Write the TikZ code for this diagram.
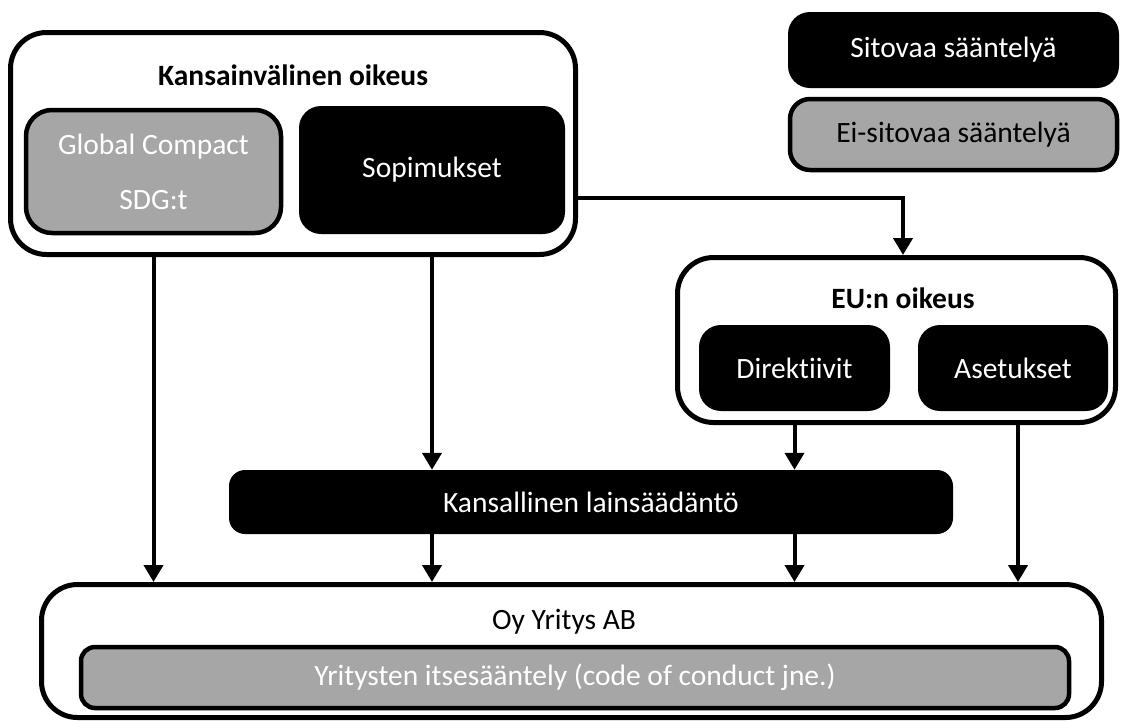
\documentclass[tikz,border=0pt]{standalone}
\usepackage{fontspec}
\setmainfont{Carlito}[Ligatures=NoCommon]
\usetikzlibrary{arrows.meta}
\definecolor{harmaa}{RGB}{166,166,166}
\tikzset{
  ulko/.style={draw=black, line width=5pt, rounded corners=36pt, fill=white},
  musta/.style={fill=black, text=white, rounded corners=22pt},
  harmaabox/.style={draw=black, line width=4.5pt, fill=harmaa, rounded corners=26pt},
  nuoli/.style={line width=4pt, -{Triangle[length=17pt,width=19pt]}},
  otsikko/.style={font=\fontsize{29.5}{35}\selectfont\bfseries},
}
\begin{document}
\begin{tikzpicture}[x=1pt,y=-1pt,font=\fontsize{29.5}{35}\selectfont]
		\useasboundingbox (0,0) rectangle (1121,721);
		% kansainvalinen oikeus
		\node[ulko,minimum width=565,minimum height=222] (kv) at (293,143.5) {};
		\node[otsikko] (kvt) at (293,75) {Kansainvälinen oikeus};
		\node[harmaabox,text=white,minimum width=255,minimum height=123,align=center] (gc) at (153.5,171.5) {Global Compact\\[20pt]SDG:t};
		\node[musta,minimum width=266,minimum height=128] (sop) at (432,170) {Sopimukset};
		% selitteet
		\node[musta,minimum width=331,minimum height=76] (sit) at (953.5,50) {Sitovaa sääntelyä};
		\node[harmaabox,minimum width=327,minimum height=71,rounded corners=20pt] (ei) at (953.5,134.5) {Ei-sitovaa sääntelyä};
		% EU
		\node[ulko,minimum width=438,minimum height=165] (eu) at (896.5,340) {};
		\node[otsikko] (eut) at (903,298) {EU:n oikeus};
		\node[musta,minimum width=191,minimum height=86] (dir) at (794.5,368) {Direktiivit};
		\node[musta,minimum width=190,minimum height=86] (ase) at (1013,368) {Asetukset};
		% kansallinen
		\node[musta,minimum width=724,minimum height=64,rounded corners=16pt] (kl) at (591,502) {Kansallinen lainsäädäntö};
		% yritys
		\node[ulko,minimum width=1060,minimum height=133] (oy) at (571.5,651) {};
		\node (oyt) at (564,622) {Oy Yritys AB};
		\node[harmaabox,text=white,minimum width=988,minimum height=61,rounded corners=14pt] (its) at (575,677.5) {Yritysten itsesääntely (code of conduct jne.)};
		% nuolet
		\coordinate (a4) at (1018,0);
		\coordinate (a5) at (903,198);
		\draw[nuoli] (kv.east |- a5) -| (eu.north -| a5);
		\draw[nuoli] (kv.south -| gc) -- (oy.north -| gc);
		\draw[nuoli] (kv.south -| sop) -- (kl.north -| sop);
		\draw[nuoli] (kl.south -| sop) -- (oy.north -| sop);
		\draw[nuoli] (eu.south -| dir) -- (kl.north -| dir);
		\draw[nuoli] (kl.south -| dir) -- (oy.north -| dir);
		\draw[nuoli] (eu.south -| a4) -- (oy.north -| a4);
\end{tikzpicture}
\end{document}
